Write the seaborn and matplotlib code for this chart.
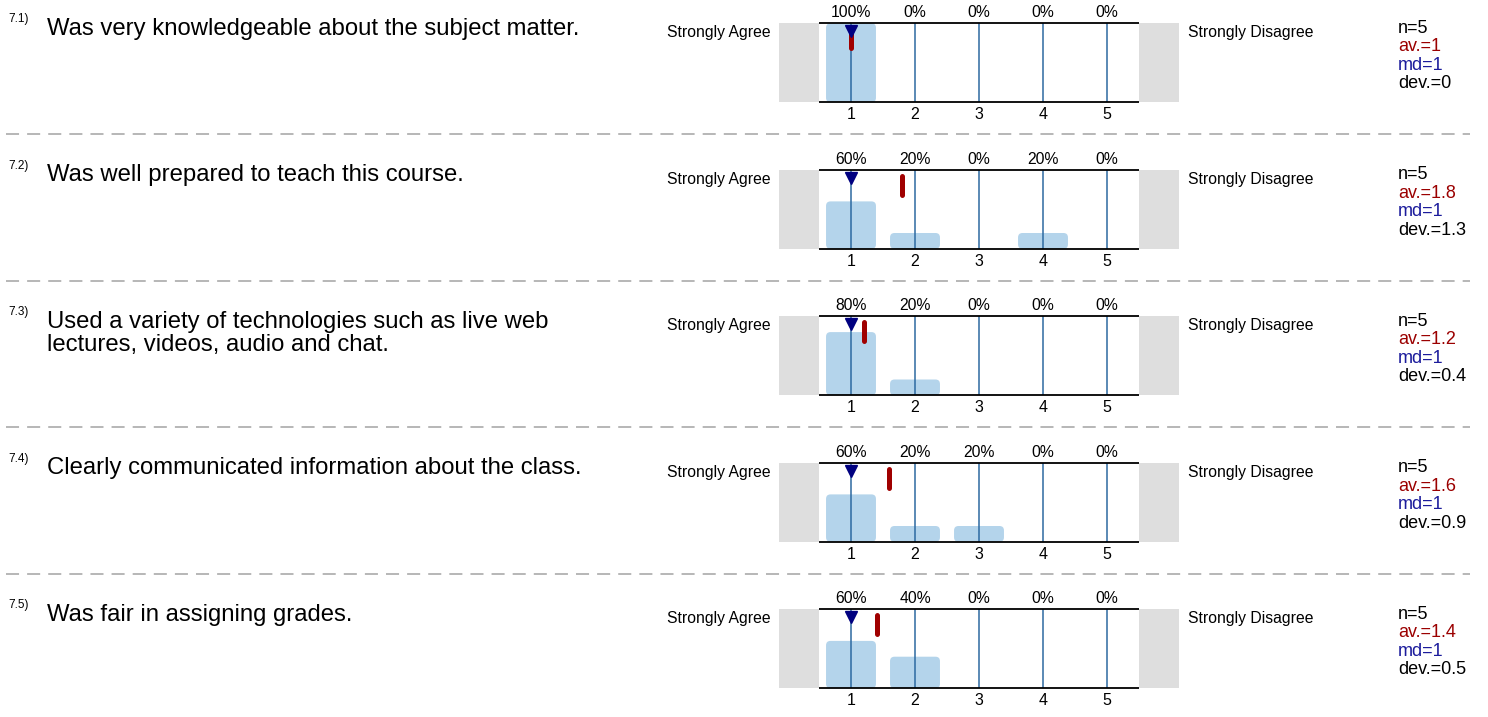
import numpy as np
import pandas as pd
import matplotlib
matplotlib.use('Agg')
import matplotlib.pyplot as plt
import seaborn as sns
from matplotlib.patches import FancyBboxPatch

sns.set_style('white')
plt.rcParams['font.family'] = ['Liberation Sans', 'DejaVu Sans']
plt.rcParams['lines.scale_dashes'] = False
plt.rcParams['text.color'] = 'black'
plt.rcParams['xtick.labelcolor'] = 'black'

# survey data
numbers = ['7.1)', '7.2)', '7.3)', '7.4)', '7.5)']
questions = [
    ['Was very knowledgeable about the subject matter.'],
    ['Was well prepared to teach this course.'],
    ['Used a variety of technologies such as live web', 'lectures, videos, audio and chat.'],
    ['Clearly communicated information about the class.'],
    ['Was fair in assigning grades.'],
]
scale = [1, 2, 3, 4, 5]
percents = [
    [100, 0, 0, 0, 0],
    [60, 20, 0, 20, 0],
    [80, 20, 0, 0, 0],
    [60, 20, 20, 0, 0],
    [60, 40, 0, 0, 0],
]
n_answers = [5, 5, 5, 5, 5]
averages = [1, 1.8, 1.2, 1.6, 1.4]
medians = [1, 1, 1, 1, 1]
deviations = ['0', '1.3', '0.4', '0.9', '0.5']
left_label = 'Strongly Agree'
right_label = 'Strongly Disagree'

bar_color = '#b4d4eb'
line_color = '#2d6aa1'
gray = '#dedede'
red = '#a00000'
navy = '#000080'

W, H = 1488, 717
fig = plt.figure(figsize=(W / 100, H / 100), dpi=100)

# background axes in pixel coordinates for all free text and separators
bg = fig.add_axes([0, 0, 1, 1])
bg.set_xlim(0, W)
bg.set_ylim(H, 0)
bg.axis('off')

row_top = 23.3
row_step = 146.5
plot_h = 79
x_left, x_right = 779, 1179

for i in range(len(questions)):
    top = row_top + i * row_step
    ax = fig.add_axes([x_left / W, 1 - (top + plot_h) / H, (x_right - x_left) / W, plot_h / H])

    df = pd.DataFrame({'answer': scale, 'share': [p / 100 for p in percents[i]]})
    sns.barplot(data=df, x='answer', y='share', native_scale=True, width=0.78,
                color=bar_color, saturation=1, ax=ax)

    # swap plain bars for rounded ones
    for bar in list(ax.patches):
        x0, y0 = bar.get_x(), bar.get_y()
        w, h = bar.get_width(), bar.get_height()
        bar.remove()
        if h <= 0:
            continue
        ax.add_patch(FancyBboxPatch((x0, y0), w, h,
                                    boxstyle='round,pad=0,rounding_size=0.07',
                                    mutation_aspect=64 / 79, fc=bar_color, ec='none', zorder=2))

    ax.set_xlim(-0.125, 6.125)
    ax.set_ylim(0, 1)
    ax.axvspan(-0.125, 0.5, color=gray, lw=0, zorder=0)
    ax.axvspan(5.5, 6.125, color=gray, lw=0, zorder=0)
    ax.vlines(scale, 0, 1, color=line_color, lw=1.1, zorder=3)
    ax.hlines([0, 1], 0.5, 5.5, color='black', lw=1.3, zorder=4, clip_on=False)

    # mean bar and median marker
    ax.plot([averages[i], averages[i]], [0.684, 0.924], color=red, lw=3.6,
            solid_capstyle='round', zorder=5)
    ax.plot(medians[i], 1 - 8 / 79, marker='v', ms=9, color=navy, lw=0, zorder=6, clip_on=False)

    for x, p in zip(scale, percents[i]):
        ax.text(x, 1 + 6 / 79, f'{p}%', ha='center', va='baseline', fontsize=11.3)

    ax.set_xticks(scale)
    ax.set_yticks([])
    ax.tick_params(axis='x', length=0, pad=3.5, labelsize=11.5)
    ax.set_xlabel('')
    ax.set_ylabel('')
    for s in ax.spines.values():
        s.set_visible(False)

    # question text
    bg.text(8, top - 1, numbers[i], fontsize=8.5, va='baseline')
    for k, line in enumerate(questions[i]):
        bg.text(47, top + 11.5 + 23 * k, line, fontsize=17.2, va='baseline')

    bg.text(771, top + 14, left_label, ha='right', va='baseline', fontsize=11.3)
    bg.text(1188, top + 14, right_label, ha='left', va='baseline', fontsize=11.3)

    stats = [(f'n={n_answers[i]}', 'black'),
             (f'av.={averages[i]:g}', '#9b0000'),
             (f'md={medians[i]:g}', '#1c1c9c'),
             (f'dev.={deviations[i]}', 'black')]
    for k, (txt, col) in enumerate(stats):
        bg.text(1398, top + 9.5 + 18.5 * k, txt, color=col, fontsize=13, va='baseline')

    if i < len(questions) - 1:
        y_sep = top + 110.7
        bg.plot([6, 1470], [y_sep, y_sep], ls=(0, (9.4, 5.8)), color='#a3a3a3', lw=1.1)

fig.savefig('out.png', dpi=100)
